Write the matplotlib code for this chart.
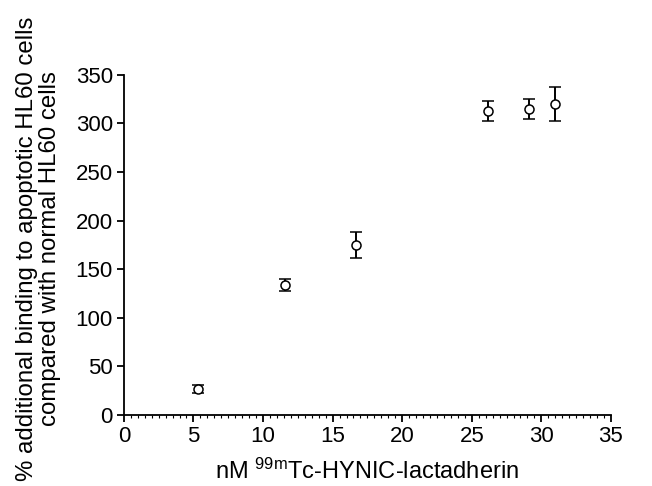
import matplotlib.pyplot as plt
from matplotlib.ticker import MultipleLocator

plt.rcParams['font.family'] = ['Liberation Sans', 'DejaVu Sans']
plt.rcParams['mathtext.default'] = 'regular'

# nM of 99mTc-HYNIC-lactadherin vs. % additional binding
conc = [5.3, 11.55, 16.65, 26.15, 29.1, 30.95]
binding = [27, 134, 175, 313, 315, 320]
err = [4, 6, 13, 10, 10, 17]

fig = plt.figure(figsize=(6.52, 4.86), dpi=100)
ax = fig.add_axes([0.190, 0.146, 0.747, 0.700])

ax.errorbar(conc, binding, yerr=err, fmt='o', color='black', mfc='white',
            mec='black', ms=6.5, mew=1.1, elinewidth=1.4, capsize=4.5, capthick=1.6)

ax.set_xlim(0, 35)
ax.set_ylim(0, 350)
ax.xaxis.set_major_locator(MultipleLocator(5))
ax.xaxis.set_minor_locator(MultipleLocator(0.5))
ax.yaxis.set_major_locator(MultipleLocator(50))

ax.spines['top'].set_visible(False)
ax.spines['right'].set_visible(False)
for s in ['left', 'bottom']:
    ax.spines[s].set_linewidth(1.3)
ax.tick_params(which='major', direction='out', length=5, width=1.3, labelsize=16, pad=3)
ax.tick_params(which='minor', direction='out', length=2, width=0.8)

ax.set_xlabel(r'nM $^{99m}$Tc-HYNIC-lactadherin', fontsize=17, labelpad=8)
ax.set_ylabel('% additional binding to apoptotic HL60 cells\ncompared with normal HL60 cells',
              fontsize=17.3, labelpad=9, linespacing=1.05)
ax.yaxis.set_label_coords(-0.13, 0.49)

plt.savefig('out.png')
